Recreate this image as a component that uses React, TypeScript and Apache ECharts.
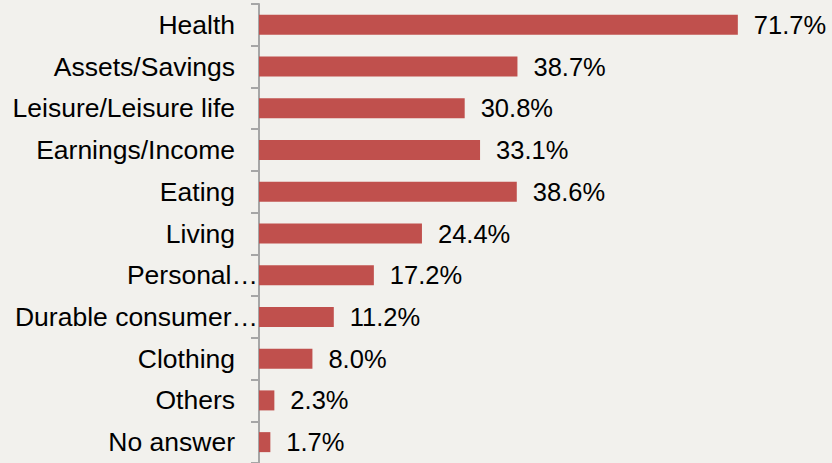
import React, { useEffect, useRef } from "react";
import * as echarts from "echarts";

const categories = [
  "Health",
  "Assets/Savings",
  "Leisure/Leisure life",
  "Earnings/Income",
  "Eating",
  "Living",
  "Personal…",
  "Durable consumer…",
  "Clothing",
  "Others",
  "No answer",
];
const values = [71.7, 38.7, 30.8, 33.1, 38.6, 24.4, 17.2, 11.2, 8.0, 2.3, 1.7];
const truncated = ["Personal…", "Durable consumer…"];

export default function App() {
  const ref = useRef<HTMLDivElement>(null);
  useEffect(() => {
    if (!ref.current) return;
    const chart = echarts.init(ref.current, null, { renderer: "svg" });
    chart.setOption({
      animation: false,
      backgroundColor: "#f2f1ed",
      grid: { left: 259, top: 4, right: 0, height: 464, containLabel: false },
      xAxis: {
        type: "value",
        min: 0,
        max: 85.8,
        show: false,
      },
      yAxis: {
        type: "category",
        inverse: true,
        data: categories.map((c) =>
          truncated.includes(c)
            ? { value: c, textStyle: { padding: [0, -23, 0, 0] } }
            : c
        ),
        axisLine: { show: true, lineStyle: { color: "#a6a6a6", width: 2 } },
        axisTick: { show: true, length: 8, lineStyle: { color: "#a6a6a6", width: 2 } },
        axisLabel: {
          margin: 24,
          color: "#000",
          fontSize: 26.5,
          fontFamily: "Liberation Sans, Arial, sans-serif",
        },
      },
      series: [
        {
          type: "bar",
          data: values,
          barWidth: 20,
          itemStyle: { color: "#c0504d" },
          label: {
            show: true,
            position: "right",
            distance: 16,
            color: "#000",
            fontSize: 25.5,
            fontFamily: "Liberation Sans, Arial, sans-serif",
            formatter: (p: any) => Number(p.value).toFixed(1) + "%",
          },
        },
      ],
    });
    return () => chart.dispose();
  }, []);
  return <div ref={ref} style={{ width: 832, height: 463, position: "fixed", left: 0, top: 0 }} />;
}
